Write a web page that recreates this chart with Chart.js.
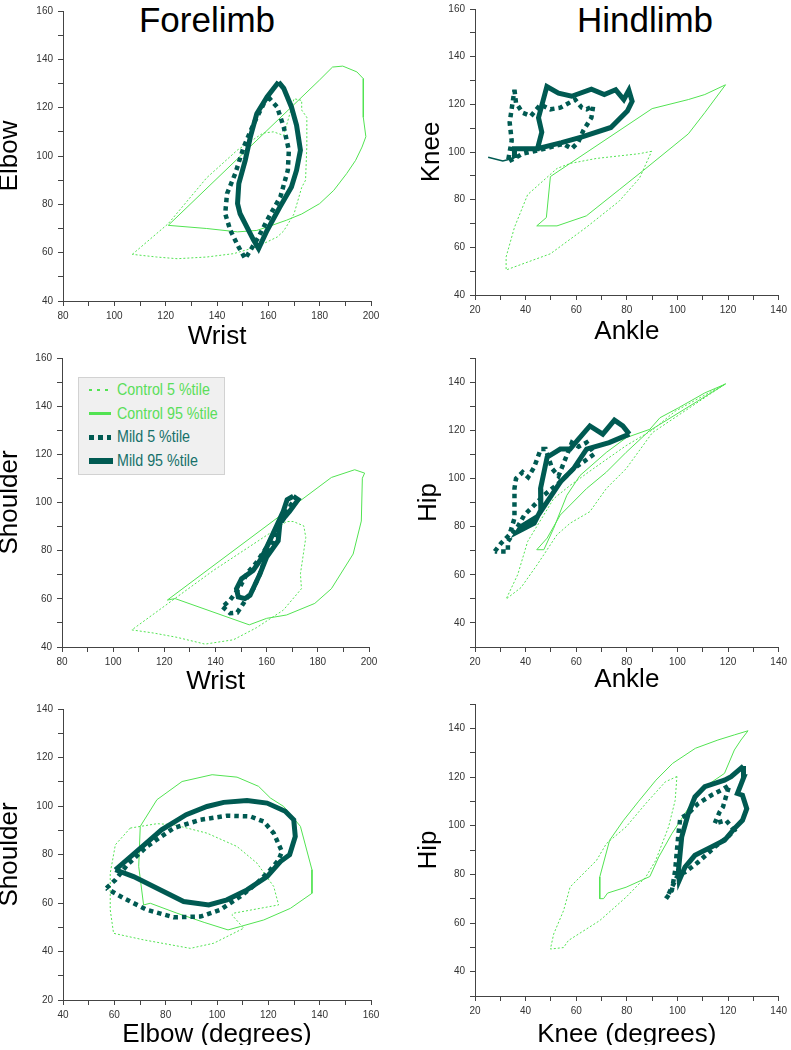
<!DOCTYPE html>
<html><head><meta charset="utf-8">
<script src="https://cdn.jsdelivr.net/npm/chart.js@4.4.1/dist/chart.umd.min.js"></script>
<style>
html,body{margin:0;padding:0;background:#fff;}
body{width:791px;height:1050px;overflow:hidden;position:relative;font-family:'Liberation Sans',Arial,sans-serif;}
canvas{position:absolute;}
.ptitle{position:absolute;top:2px;font-size:35px;line-height:35px;color:#000;transform:translateX(-50%);white-space:nowrap;}
#legend{position:absolute;left:78px;top:377px;width:145px;height:96px;background:#f0f0f0;border:1px solid #d2d2d2;}
.lrow{position:absolute;left:0;height:24px;line-height:24px;font-family:'Liberation Sans',Arial,sans-serif;font-size:17px;white-space:nowrap;}
.lsample{position:absolute;left:10px;top:50%;}
.ltext{position:absolute;left:38px;top:0;display:inline-block;transform:scaleX(0.84);transform-origin:0 50%;}
</style></head><body>
<div class="ptitle" style="left:207px">Forelimb</div>
<div class="ptitle" style="left:645px">Hindlimb</div>
<canvas id="p1" width="395" height="347"></canvas>
<canvas id="p2" width="396" height="344"></canvas>
<canvas id="p3" width="395" height="345"></canvas>
<canvas id="p4" width="396" height="343"></canvas>
<canvas id="p5" width="395" height="353"></canvas>
<canvas id="p6" width="396" height="355"></canvas>
<div id="legend"></div>
<script>
// ---------- DATA ----------
const seriesLabels = ['Control 5 %tile', 'Control 95 %tile', 'Mild 5 %tile', 'Mild 95 %tile'];
const panelTitles = ['Forelimb', 'Hindlimb'];
const wristRange = [80, 200];
const elbowRangeY = [40, 160];
const ankleRange = [20, 140];
const kneeRangeY = [40, 160];
const shoulderRangeY = [40, 160];
const hipRangeY = [30, 150];
const elbowRangeX = [40, 160];
const shoulderRangeY2 = [20, 140];
const kneeRangeX = [20, 140];

// Panel 1: Wrist (x) vs Elbow (y)
const wristElbowCtrl5X = [107, 121, 136, 148, 158, 162, 166, 170, 173, 173, 175, 175, 174.5, 173, 170, 166, 163.5, 155.5, 146.5, 136, 124.5, 116.5, 107];
const wristElbowCtrl5Y = [59.3, 72, 91, 102.5, 109.5, 110, 108.5, 123.7, 123, 119, 116, 104, 90, 87, 76, 69, 66.5, 62.4, 59.6, 58.2, 57.5, 58.2, 59.3];
const wristElbowCtrl95X = [121, 180, 185, 189, 194.5, 197, 197, 198, 196.5, 194, 190.5, 185.5, 180, 173, 167, 159.5, 155.5, 148, 136, 121];
const wristElbowCtrl95Y = [71.3, 131.5, 136.8, 137.2, 134.8, 132, 116, 108, 103.7, 98.2, 92.7, 85.8, 80.3, 76, 73.4, 70.6, 69.2, 68.6, 70, 71.3];
const wristElbowMild5X = [160, 163.4, 166, 168, 167.6, 164.7, 159.5, 156.2, 151, 148.4, 145.2, 143.2, 143.9, 147.1, 150.4, 154.3, 158.2, 160];
const wristElbowMild5Y = [124.4, 120.3, 112, 102.4, 94.1, 83.1, 73.4, 66.5, 57.5, 62.4, 69.2, 76.1, 84.4, 92.7, 103.7, 113.4, 121.6, 124.4];
const wristElbowMild95X = [164, 166, 169, 171, 172.5, 171, 169, 164.5, 159.5, 156.2, 154.3, 149, 148, 148.5, 151, 153, 155.5, 159.5, 164];
const wristElbowMild95Y = [130.6, 128, 120.3, 112.7, 102.4, 94.1, 87.2, 78.9, 69.2, 61.7, 65.1, 76.1, 80.3, 88.6, 98.2, 107.9, 117.5, 124.4, 130.6];

// Panel 2: Ankle (x) vs Knee (y)
const ankleKneeCtrl5X = [89.8, 85, 68, 57.6, 52.4, 40.8, 35.6, 32.3, 32.3, 35.6, 49.8, 64, 77, 85, 89.8];
const ankleKneeCtrl5Y = [100.3, 99.3, 97.3, 95.2, 93.1, 82.1, 68.4, 56, 50.5, 51.8, 57.3, 68.4, 79.4, 89, 100.3];
const ankleKneeCtrl95X = [119, 110.8, 104.3, 90, 49.8, 48.2, 44.4, 52.4, 64, 77, 87.5, 104.3, 110.8, 119];
const ankleKneeCtrl95Y = [128.2, 124.1, 122, 118.2, 89.7, 72.5, 69, 69, 73.2, 84.2, 93.1, 107.6, 116.5, 128.2];
const ankleKneeMild5X = [35.6, 36.2, 38.8, 42.1, 45.9, 49.8, 53.7, 59.6, 62.2, 64.1, 66.7, 66, 62.8, 60.8, 58.2, 54.9, 43.3, 38.8, 35.6, 33, 34.5, 33.7, 35.6];
const ankleKneeMild5Y = [126.1, 120.6, 116.5, 115.1, 119.9, 117.9, 118.6, 122, 118.6, 117.9, 119.3, 114.4, 109, 104.1, 101.4, 103.4, 100.3, 99.3, 97.3, 95.9, 104.8, 112.4, 126.1];
const ankleKneeMild95X = [25.2, 31, 35.6, 35.6, 44.7, 46.4, 45.1, 48.4, 53, 58.2, 66, 71.1, 75.6, 78.8, 80.8, 82.1, 80.2, 73.7, 62, 54.2, 44.7];
const ankleKneeMild95Y = [97.8, 96.2, 97.5, 101.4, 101.4, 108.3, 114.4, 127.5, 124.7, 123.4, 126.4, 124.1, 126.1, 122, 125.9, 121.3, 117.2, 110.3, 106.2, 103.9, 101.4];

// Panel 3: Wrist (x) vs Shoulder (y)
const wristShoulderCtrl5X = [107.3, 115.8, 125, 135.9, 147, 156, 166.5, 173.6, 173.2, 175.3, 174.5, 170.4, 167.8, 162.6, 139.2, 107.3];
const wristShoulderCtrl5Y = [47.1, 45.8, 44, 41.2, 43, 48, 55.3, 64.2, 70.4, 85.5, 90.3, 92.1, 92.1, 88.2, 71.8, 47.1];
const wristShoulderCtrl95X = [121.2, 185.3, 194.4, 198.3, 197.4, 197, 193.8, 185.3, 178.8, 167.8, 160, 153.2, 124.2, 121.2];
const wristShoulderCtrl95Y = [59.5, 110.4, 113.6, 112.2, 110.1, 92.3, 78.6, 64.2, 58.1, 53.3, 51.9, 49.2, 60.1, 59.5];
const wristShoulderMild5X = [142.8, 145.7, 148.5, 150.9, 154.8, 157.4, 160, 162.6, 164.5, 167, 170.4, 166.5, 162.6, 160, 156.1, 152.2, 149.6, 145.7, 142.8];
const wristShoulderMild5Y = [56.7, 54, 54.3, 58.1, 64.2, 70.4, 78.6, 84.1, 89.6, 95, 100.5, 93, 86.8, 81.4, 75.2, 70.4, 64.9, 59.5, 56.7];
const wristShoulderMild95X = [170.4, 172.3, 169, 165.2, 164.5, 160, 157.4, 153.5, 151.5, 148.9, 148.2, 150.2, 154.7, 157.4, 160, 163.9, 166.5, 168, 170.4];
const wristShoulderMild95Y = [102.6, 101.2, 96.4, 91.6, 84.1, 77.3, 70.4, 61.5, 60.1, 60.8, 64.2, 68.4, 71.8, 75.9, 81.4, 90.3, 96.4, 101.2, 102.6];

// Panel 4: Ankle (x) vs Hip (y)
const ankleHipCtrl5X = [119, 99.1, 90.1, 79.7, 66.7, 57.6, 51.1, 40.8, 36.9, 32.3, 38.2, 44.6, 52.4, 57.6, 65.4, 71.9, 79.7, 90.1, 119];
const ankleHipCtrl5Y = [139.3, 127.9, 120.1, 113.6, 104, 97.1, 91.6, 73.8, 60.1, 49.9, 54.7, 64.2, 76.6, 81.4, 86.2, 95.8, 104, 119, 139.3];
const ankleHipCtrl95X = [119, 110.8, 100.4, 93.1, 89.1, 79.9, 71.9, 61.5, 56.3, 51.1, 47.2, 44.4, 48.5, 53.7, 64.1, 71.9, 79.7, 88.8, 119];
const ankleHipCtrl95Y = [139.2, 135.5, 129.3, 125.2, 120.4, 117, 110.8, 101.2, 93, 79.3, 70.4, 70.4, 75.2, 84.8, 95.8, 102.6, 110.8, 119.7, 139.2];
const ankleHipMild5X = [27.8, 30.4, 33.6, 35.6, 35.6, 36.2, 38.8, 41, 43.4, 46, 47.9, 50.5, 53, 58.3, 61, 64.1, 67.2, 63, 58.9, 53.7, 47.2, 43.4, 39.5, 36.9, 33, 33, 27.8];
const ankleHipMild5Y = [69.7, 73.2, 76.6, 83.4, 95.8, 99.9, 102.6, 100.5, 104.7, 112.2, 112.2, 104, 101, 114.9, 113.2, 114.9, 110.2, 107, 104, 98.5, 93, 88.9, 84.8, 80, 73.8, 69.7, 69.7];
const ankleHipMild95X = [81, 78.4, 75.1, 70.5, 65.4, 60.9, 57.6, 53.7, 48.5, 45.9, 46, 43.4, 36.9, 38.2, 44.6, 48.5, 53.7, 58.9, 64.1, 73, 81];
const ankleHipMild95Y = [118.4, 121.8, 124.2, 118.4, 121.8, 116.3, 112.2, 112.2, 108.8, 95.8, 86.8, 81.4, 77.9, 80, 84.1, 90.3, 98.5, 104, 112.2, 114.9, 118.4];

// Panel 5: Elbow (x) vs Shoulder (y)
const elbowShoulderCtrl5X = [66.2, 76.6, 83.1, 96.1, 107.8, 115.6, 122.1, 124, 106.5, 105.8, 110.4, 98.7, 89.6, 71.4, 59.7, 58.4, 58.4, 60.4, 66.2];
const elbowShoulderCtrl5Y = [90.9, 92.7, 92.3, 88.8, 83.3, 76.4, 66.8, 59.2, 55.8, 55.1, 49.6, 43.4, 41.3, 44.8, 47.5, 57.2, 72.3, 84, 90.9];
const elbowShoulderCtrl95X = [86.4, 98.1, 107.8, 116.2, 120.8, 126, 132.5, 137, 137, 128.6, 118.2, 109.1, 104.3, 95, 84.4, 74, 71.4, 69.5, 70.1, 76.6, 86.4];
const elbowShoulderCtrl95Y = [110.1, 112.9, 111.9, 108.1, 103.3, 99.8, 91.6, 73.7, 64, 57.8, 53, 50.3, 48.9, 52, 55.8, 59.9, 59.2, 75.1, 91.6, 102.6, 110.1];
const elbowShoulderMild5X = [56.9, 60.4, 65, 72.7, 83.1, 93.5, 103.9, 113, 118.2, 122.1, 125.3, 124, 120.8, 115.6, 109.1, 101.3, 93.5, 83.1, 72.7, 63.6, 56.9];
const elbowShoulderMild5Y = [66.1, 69.5, 75.7, 83.3, 90.9, 94.3, 96, 95.7, 93.6, 88.8, 81.2, 77.8, 73.7, 68.2, 62.7, 57.2, 54.4, 54.1, 57.2, 62, 66.1];
const elbowShoulderMild95X = [60.4, 69.4, 78.4, 88, 96.1, 102.6, 111.7, 119.5, 126.6, 129.9, 130.5, 128.3, 124.7, 119.5, 111.7, 103.9, 96.8, 87, 78, 67.5, 60.4];
const elbowShoulderMild95Y = [73.7, 81.9, 90.2, 96.4, 99.8, 101.5, 102.3, 101.2, 97.8, 94.3, 87.4, 79.9, 77.1, 70.9, 65.4, 61.3, 59.2, 60.6, 65.4, 70.9, 73.7];

// Panel 6: Knee (x) vs Hip (y)
const kneeHipCtrl5X = [99.8, 95.2, 87.5, 79.7, 71.9, 68, 61.5, 57.6, 55, 51.1, 49.8, 55, 56.9, 69.3, 79.7, 87.5, 91.4, 96.5, 99.1, 99.8];
const kneeHipCtrl5Y = [120.2, 118, 109.1, 99.5, 92.6, 85.7, 78.9, 74.8, 65.1, 55.5, 49.3, 49.9, 52.8, 61, 70.6, 78.9, 85.7, 99.5, 110.4, 120.2];
const kneeHipCtrl95X = [127.9, 122.5, 116, 107.1, 98.1, 91.5, 84.5, 78.7, 73.2, 69.3, 69.3, 70.8, 72.4, 79.7, 89.1, 92.6, 97.8, 103, 108.9, 118.6, 122.5, 125.1, 127.9];
const kneeHipCtrl95Y = [139, 137.3, 135.2, 131.8, 125.6, 118.7, 109.8, 102.2, 94, 78.9, 70, 70, 72.3, 74.7, 79.1, 87.1, 96.7, 105, 114.6, 121.5, 131.1, 135.2, 139];
const kneeHipMild5X = [95.5, 97.8, 99.1, 99.8, 100.4, 101.1, 104.3, 108.2, 113.4, 117.3, 120.5, 118, 116.7, 114.7, 119.2, 122.5, 119.9, 114.7, 108.2, 103, 100.4, 96.5, 95.5];
const kneeHipMild5Y = [70, 73.4, 81.6, 89.9, 96.7, 102.9, 105, 109.1, 112.5, 114.6, 116.6, 107.7, 105.7, 100.9, 102.2, 98.1, 95.4, 91.2, 85, 80.9, 80.2, 71.9, 70];
const kneeHipMild95X = [126.1, 121.2, 118.6, 110.8, 106.9, 104.3, 101.7, 100.4, 100.7, 103, 106.9, 113.4, 118.6, 122.5, 125.7, 127.4, 125.7, 123.7, 126.3, 126.1];
const kneeHipMild95Y = [124.5, 120.1, 118.7, 116, 111.8, 105, 95.4, 81.6, 77.5, 83, 87.8, 91.2, 94, 98.8, 102.2, 107, 112.5, 113.2, 120.1, 124.5];

// ---------- STYLE ----------
const CTRL = '#52e352';
const MILD = '#005a52';
const seriesStyles = [
  {color: CTRL, width: 1, dash: [2, 2], legendColor: '#5ade5a'},
  {color: CTRL, width: 1, dash: [], legendColor: '#5ade5a'},
  {color: MILD, width: 4.5, dash: [4.5, 4], legendColor: '#17706a'},
  {color: MILD, width: 5, dash: [], legendColor: '#17706a'}
];
const FONT = "'Liberation Sans', Arial, sans-serif";

function pts(xs, ys) { return xs.map((x, i) => ({x: x, y: ys[i]})); }

const panels = [
  {id: 'p1', left: 0, top: 0, w: 395, h: 347, plot: {l: 63, r: 371, t: 11, b: 301}, xr: wristRange, yr: elbowRangeY, xt: 'Wrist', yt: 'Elbow', ytx: 10,
   s: [[wristElbowCtrl5X, wristElbowCtrl5Y], [wristElbowCtrl95X, wristElbowCtrl95Y], [wristElbowMild5X, wristElbowMild5Y], [wristElbowMild95X, wristElbowMild95Y]]},
  {id: 'p2', left: 395, top: -2, w: 396, h: 344, plot: {l: 475, r: 783, t: 5, b: 295}, xr: ankleRange, yr: kneeRangeY, xt: 'Ankle', yt: 'Knee', ytx: 37, tail: true,
   s: [[ankleKneeCtrl5X, ankleKneeCtrl5Y], [ankleKneeCtrl95X, ankleKneeCtrl95Y], [ankleKneeMild5X, ankleKneeMild5Y], [ankleKneeMild95X, ankleKneeMild95Y]]},
  {id: 'p3', left: 0, top: 347, w: 395, h: 345, plot: {l: 62, r: 369, t: 355, b: 647}, xr: wristRange, yr: shoulderRangeY, xt: 'Wrist', yt: 'Shoulder', ytx: 10,
   s: [[wristShoulderCtrl5X, wristShoulderCtrl5Y], [wristShoulderCtrl95X, wristShoulderCtrl95Y], [wristShoulderMild5X, wristShoulderMild5Y], [wristShoulderMild95X, wristShoulderMild95Y]]},
  {id: 'p4', left: 395, top: 347, w: 396, h: 343, plot: {l: 475, r: 783, t: 355, b: 647}, xr: ankleRange, yr: hipRangeY, xt: 'Ankle', yt: 'Hip', ytx: 34,
   s: [[ankleHipCtrl5X, ankleHipCtrl5Y], [ankleHipCtrl95X, ankleHipCtrl95Y], [ankleHipMild5X, ankleHipMild5Y], [ankleHipMild95X, ankleHipMild95Y]]},
  {id: 'p5', left: 0, top: 692, w: 395, h: 353, plot: {l: 63, r: 371, t: 709, b: 1000}, xr: elbowRangeX, yr: shoulderRangeY2, xt: 'Elbow (degrees)', yt: 'Shoulder', ytx: 10,
   s: [[elbowShoulderCtrl5X, elbowShoulderCtrl5Y], [elbowShoulderCtrl95X, elbowShoulderCtrl95Y], [elbowShoulderMild5X, elbowShoulderMild5Y], [elbowShoulderMild95X, elbowShoulderMild95Y]]},
  {id: 'p6', left: 395, top: 690, w: 396, h: 355, plot: {l: 475, r: 783, t: 704, b: 996}, xr: kneeRangeX, yr: hipRangeY, xt: 'Knee (degrees)', yt: 'Hip', ytx: 34,
   s: [[kneeHipCtrl5X, kneeHipCtrl5Y], [kneeHipCtrl95X, kneeHipCtrl95Y], [kneeHipMild5X, kneeHipMild5Y], [kneeHipMild95X, kneeHipMild95Y]]}
];

const TITLE_SIZE = 26, TITLE_LH = 0.8;
const titleHalf = TITLE_SIZE * TITLE_LH / 2;

function axis(range, isX, p) {
  const yw = p.plot.l - p.left;
  const xh = p.top + p.h - p.plot.b;
  return {
    type: 'linear', min: range[0], max: range[1],
    afterFit: s => { if (isX) s.height = xh; else s.width = yw; },
    ticks: {stepSize: 10, autoSkip: false, maxRotation: 0, minRotation: 0, padding: isX ? 4 : 5, color: '#333',
      font: {family: FONT, size: 10},
      callback: v => (v % 20 === 0 ? String(v) : '')},
    grid: {display: true, drawOnChartArea: false, drawTicks: true, tickLength: 5, color: '#444', lineWidth: 1},
    border: {display: true, color: '#444', width: 1},
    title: {display: true, text: isX ? p.xt : p.yt, color: '#000',
      font: {family: FONT, size: TITLE_SIZE, lineHeight: TITLE_LH},
      padding: isX ? {top: 0, bottom: 0} : {top: p.ytx - titleHalf, bottom: 0}}
  };
}

panels.forEach(p => {
  const cv = document.getElementById(p.id);
  cv.style.left = p.left + 'px';
  cv.style.top = p.top + 'px';
  const datasets = p.s.map((xy, i) => {
    const st = seriesStyles[i];
    const ds = {
      label: seriesLabels[i], data: pts(xy[0], xy[1]), showLine: true, fill: false,
      borderColor: st.color, backgroundColor: st.color, borderWidth: st.width, borderDash: st.dash,
      pointRadius: 0, pointHoverRadius: 0, tension: 0, order: 4 - i, clip: false
    };
    if (p.tail && i === 3) {
      ds.segment = {borderWidth: c => (c.p0DataIndex < 2 ? 1.5 : undefined)};
    }
    return ds;
  });
  new Chart(cv, {
    type: 'scatter',
    data: {datasets: datasets},
    options: {
      responsive: false, animation: false, events: [],
      layout: {padding: {left: 0, right: p.left + p.w - p.plot.r, top: p.plot.t - p.top, bottom: 0}},
      plugins: {legend: {display: false}, tooltip: {enabled: false}, title: {display: false}},
      scales: {x: axis(p.xr, true, p), y: axis(p.yr, false, p)}
    }
  });
});

// ---------- LEGEND (HTML) ----------
const legend = document.getElementById('legend');
seriesLabels.forEach((lab, i) => {
  const st = seriesStyles[i];
  const row = document.createElement('div');
  row.className = 'lrow';
  row.style.top = (i * 23.7) + 'px';
  row.style.width = '145px';
  const samp = document.createElement('span');
  samp.className = 'lsample';
  const th = [2, 3, 5, 6][i];
  const wdt = [20, 22, 22, 24][i];
  samp.style.width = wdt + 'px';
  samp.style.height = th + 'px';
  samp.style.marginTop = (-th / 2) + 'px';
  if (st.dash.length) {
    const on = i === 0 ? 3 : 5, off = i === 0 ? 5 : 4;
    samp.style.background = 'repeating-linear-gradient(90deg,' + st.color + ' 0 ' + on + 'px, transparent ' + on + 'px ' + (on + off) + 'px)';
  } else {
    samp.style.background = st.color;
  }
  const txt = document.createElement('span');
  txt.className = 'ltext';
  txt.style.color = st.legendColor;
  txt.textContent = lab;
  row.appendChild(samp);
  row.appendChild(txt);
  legend.appendChild(row);
});
</script>
</body></html>
